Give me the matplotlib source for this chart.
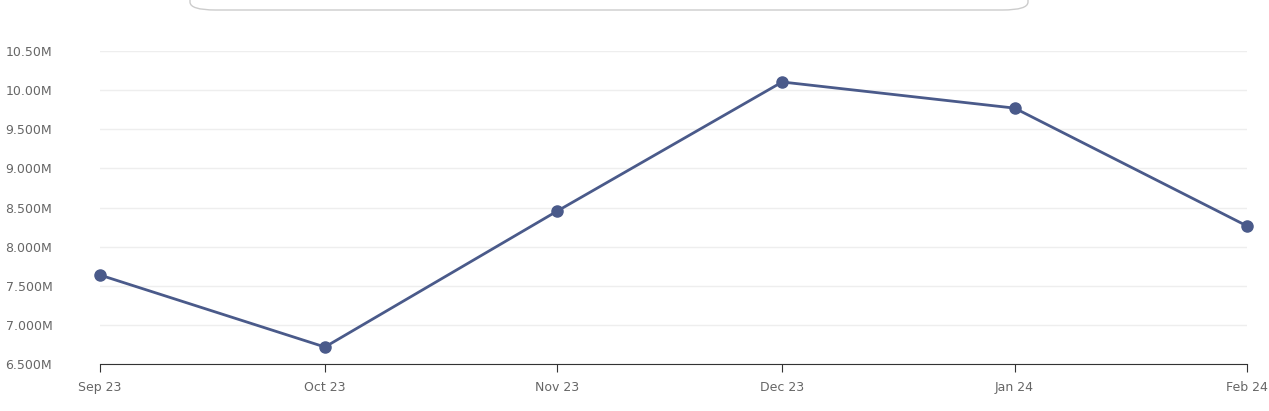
import matplotlib
matplotlib.use("Agg")
import matplotlib.pyplot as plt
import matplotlib.dates as mdates
from matplotlib.patches import FancyBboxPatch
import datetime as dt

months = ["2023-09-01","2023-10-01","2023-11-01","2023-12-01","2024-01-01","2024-02-01"]
tick_labels = ["Sep 23","Oct 23","Nov 23","Dec 23","Jan 24","Feb 24"]
values = [7.637, 6.717, 8.455, 10.104, 9.77, 8.264]  # millions
y_ticks = [6.5,7.0,7.5,8.0,8.5,9.0,9.5,10.0,10.5]
y_labels = ["6.500M","7.000M","7.500M","8.000M","8.500M","9.000M","9.500M","10.00M","10.50M"]

dates = [dt.datetime.strptime(m, "%Y-%m-%d") for m in months]
W, H = 1269, 411
fig = plt.figure(figsize=(W/100, H/100), dpi=100)
ax = fig.add_axes([100/W, 1-364/H, 1147/W, 313/H])
ax.plot(dates, values, color="#4a5a8a", lw=2, marker="o", ms=8, clip_on=False, zorder=3)
ax.set_xlim(dates[0], dates[-1])
ax.set_ylim(6.5, 10.5)
ax.set_xticks(dates)
ax.set_xticklabels(tick_labels, fontsize=9, color="#666666")
ax.set_yticks(y_ticks)
ax.set_yticklabels(y_labels, fontsize=9, color="#666666")
ax.tick_params(axis="y", length=0, pad=18)
ax.tick_params(axis="x", length=6, color="#333333", pad=6)
ax.grid(axis="y", color="#eeeeee", lw=1)
for s in ["left","right","top"]:
    ax.spines[s].set_visible(False)
ax.spines["bottom"].set_color("#333333")
ax.set_axisbelow(True)
for lbl in ax.get_yticklabels():
    lbl.set_horizontalalignment("left")
ax.tick_params(axis="y", pad=68)

box = FancyBboxPatch((190/W, 1-10/H), (1028-190)/W, 40/H,
                     boxstyle="round,pad=0,rounding_size=0.02", transform=fig.transFigure,
                     facecolor="white", edgecolor="#cccccc", lw=1, mutation_aspect=H/W*3)
fig.patches.append(box)
fig.savefig("out.png", dpi=100)
